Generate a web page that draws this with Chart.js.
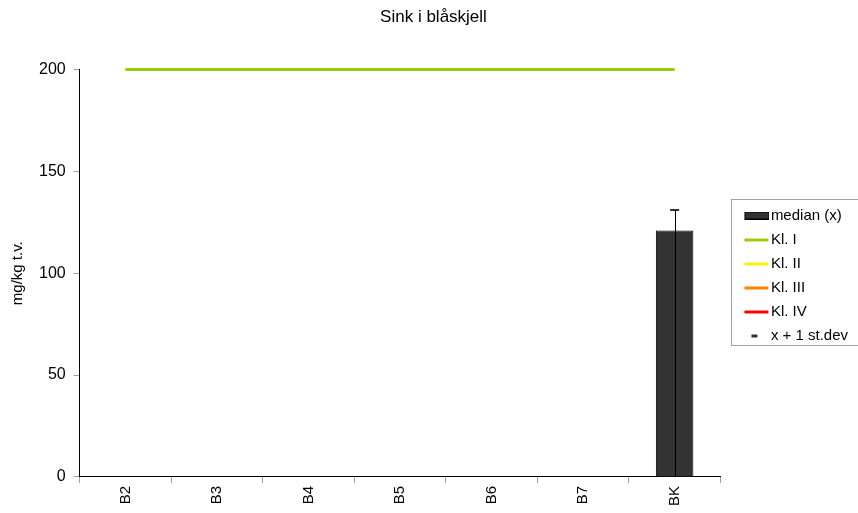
<!DOCTYPE html>
<html>
<head>
<meta charset="utf-8">
<script src="https://cdn.jsdelivr.net/npm/chart.js@4"></script>
<style>
  html, body { margin: 0; padding: 0; background: #fff; }
  #wrap { width: 858px; height: 513px; }
</style>
</head>
<body>
<div id="wrap"><canvas id="sinkChart"></canvas></div>
<script>
// stations
const stations = ['B2', 'B3', 'B4', 'B5', 'B6', 'B7', 'BK'];
// median (x), mg/kg t.v.
const medianValues = [null, null, null, null, null, null, 121];
// x + 1 st.dev
const stdevValues = [null, null, null, null, null, null, 131];
// class limits (only Kl. I falls inside the axis range)
const klI = [200, 200, 200, 200, 200, 200, 200];
const klII = [400, 400, 400, 400, 400, 400, 400];
const klIII = [1000, 1000, 1000, 1000, 1000, 1000, 1000];
const klIV = [2500, 2500, 2500, 2500, 2500, 2500, 2500];
const yTicks = [0, 50, 100, 150, 200];

const FONT = "Arial, 'Liberation Sans', sans-serif";

// legend markers as small canvases, drawn off-centre so the marker
// sits right up against its text like in the original
function marker(draw) {
    const c = document.createElement('canvas');
    c.width = 46; c.height = 8;
    draw(c.getContext('2d'));
    return c;
}
const barMarker = marker(c => {
    c.fillStyle = '#333333';
    c.fillRect(21, 1, 25, 6);
    c.strokeStyle = '#000';
    c.lineWidth = 1;
    c.strokeRect(21.5, 0.5, 24, 7);
});
const lineMarker = col => marker(c => {
    c.fillStyle = col;
    c.fillRect(21, 3, 24, 3);
});
const dashMarker = marker(c => {
    c.fillStyle = '#333333';
    c.fillRect(28, 3, 6, 3);
});

const errorLines = {
    id: 'errorLines',
    afterDatasetsDraw(chart) {
        const ctx = chart.ctx;
        const x = chart.scales.x, y = chart.scales.y;
        ctx.save();
        ctx.strokeStyle = '#000';
        ctx.lineWidth = 1;
        stdevValues.forEach((v, i) => {
            if (v == null) return;
            const px = Math.round(x.getPixelForValue(i)) + 0.5;
            ctx.beginPath();
            ctx.moveTo(px, y.getPixelForValue(0));
            ctx.lineTo(px, y.getPixelForValue(v));
            ctx.stroke();
        });
        ctx.restore();
    }
};

const legendBox = {
    id: 'legendBox',
    afterLayout(chart) {
        // push the legend items down a little
        chart.legend.top += 21;
        chart.legend.bottom += 21;
    },
    afterDraw(chart) {
        const ctx = chart.ctx;
        ctx.save();
        ctx.strokeStyle = '#a0a0a0';
        ctx.lineWidth = 1;
        ctx.strokeRect(731.5, 199.5, 140, 146);
        ctx.restore();
    }
};

new Chart(document.getElementById('sinkChart'), {
    type: 'bar',
    plugins: [errorLines, legendBox],
    data: {
        labels: stations,
        datasets: [
            {
                label: 'median (x)',
                data: medianValues,
                backgroundColor: '#333333',
                borderColor: '#000000',
                borderWidth: 1,
                categoryPercentage: 1,
                barPercentage: 0.41,
                pointStyle: barMarker,
                order: 5
            },
            {
                type: 'line', label: 'Kl. I', data: klI, clip: 4,
                borderColor: '#99cc00', backgroundColor: '#99cc00',
                borderWidth: 3, pointRadius: 0, pointStyle: lineMarker('#99cc00'), order: 4
            },
            {
                type: 'line', label: 'Kl. II', data: klII,
                borderColor: '#ffff00', backgroundColor: '#ffff00',
                borderWidth: 3, pointRadius: 0, pointStyle: lineMarker('#ffee00'), order: 3
            },
            {
                type: 'line', label: 'Kl. III', data: klIII,
                borderColor: '#ff8000', backgroundColor: '#ff8000',
                borderWidth: 3, pointRadius: 0, pointStyle: lineMarker('#ff8000'), order: 2
            },
            {
                type: 'line', label: 'Kl. IV', data: klIV,
                borderColor: '#ff0000', backgroundColor: '#ff0000',
                borderWidth: 3, pointRadius: 0, pointStyle: lineMarker('#ff0000'), order: 1
            },
            {
                type: 'line', label: 'x + 1 st.dev', data: stdevValues,
                showLine: false, clip: 6,
                pointStyle: 'line', pointRadius: 4.5, borderWidth: 2,
                borderColor: '#333333', backgroundColor: '#333333',
                order: 0
            }
        ]
    },
    options: {
        responsive: true,
        maintainAspectRatio: false,
        animation: false,
        layout: { padding: { top: 0, right: 0, bottom: 4, left: 9 } },
        plugins: {
            title: {
                display: true,
                text: 'Sink i blåskjell',
                color: '#000',
                font: { family: FONT, size: 17, weight: 'normal' },
                padding: { top: 7, bottom: 42 }
            },
            legend: {
                position: 'right',
                align: 'center',
                labels: {
                    color: '#000',
                    font: { family: FONT, size: 15 },
                    usePointStyle: true,
                    pointStyleWidth: 34,
                    boxHeight: 8,
                    padding: 9,
                    generateLabels(chart) {
                        return chart.data.datasets.map((ds, i) => ({
                            text: ds.label,
                            fillStyle: ds.backgroundColor,
                            strokeStyle: ds.borderColor,
                            lineWidth: 0,
                            pointStyle: i === 5 ? dashMarker : ds.pointStyle,
                            datasetIndex: i,
                            hidden: false
                        }));
                    }
                }
            },
            tooltip: { enabled: false }
        },
        scales: {
            x: {
                grid: { display: true, drawOnChartArea: false, offset: true, tickLength: 6, color: '#a0a0a0' },
                border: { color: '#000', width: 1 },
                ticks: {
                    color: '#000',
                    font: { family: FONT, size: 15 },
                    minRotation: 90, maxRotation: 90,
                    padding: 3
                }
            },
            y: {
                min: 0, max: 200,
                afterBuildTicks(axis) { axis.ticks = yTicks.map(v => ({ value: v })); },
                grid: { display: true, drawOnChartArea: false, tickLength: 6, color: '#a0a0a0' },
                border: { color: '#000', width: 1 },
                ticks: {
                    color: '#000',
                    font: { family: FONT, size: 16 },
                    padding: 8
                },
                title: {
                    display: true,
                    text: 'mg/kg t.v.',
                    color: '#000',
                    font: { family: FONT, size: 15 },
                    padding: { top: 0, bottom: 4 }
                }
            }
        }
    }
});
</script>
</body>
</html>
